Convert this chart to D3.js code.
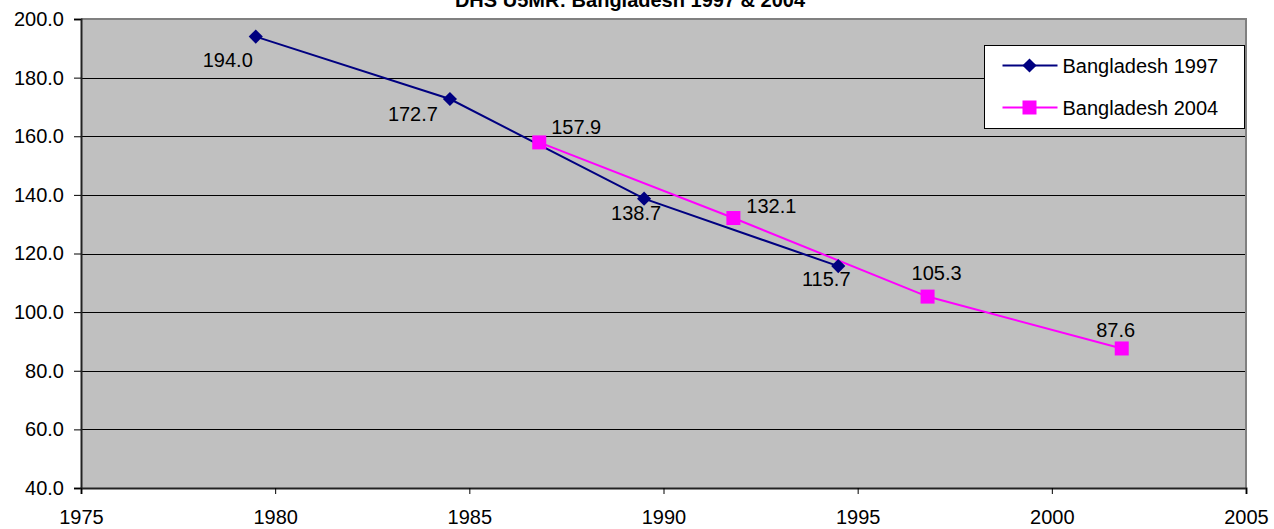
<!DOCTYPE html>
<html>
<head>
	<title>DHS U5MR: Bangladesh 1997 & 2004</title>
	<script src="https://cdn.jsdelivr.net/npm/d3@7"></script>
	<style type="text/css">
	body { margin: 0; background: #fff; }
	svg text { font-family: "Liberation Sans", Arial, sans-serif; fill: #000; }
	</style>
</head>
<body>
	<svg></svg>
<script>
// survey data
var years1997 = [1979.5, 1984.5, 1989.5, 1994.5];
var u5mr1997 = [194.0, 172.7, 138.7, 115.7];
var years2004 = [1986.8, 1991.8, 1996.8, 2001.8];
var u5mr2004 = [157.9, 132.1, 105.3, 87.6];
var seriesNames = ["Bangladesh 1997", "Bangladesh 2004"];
var xTicks = [1975, 1980, 1985, 1990, 1995, 2000, 2005];
var yTicks = [40, 60, 80, 100, 120, 140, 160, 180, 200];

// hand placed label nudges (dx, dy from the point), like the original
var labelNudge1997 = [[-28, 23], [-37, 15], [-8, 14], [-12, 13]];
var labelNudge2004 = [[37, -16], [38, -12], [9, -24], [-6, -19]];

var width = 1274, height = 529;
var margin = {top: 19, right: 28, bottom: 41, left: 81};
var w = width - margin.left - margin.right,
	h = height - margin.top - margin.bottom;

var svg = d3.select("svg").attr("width", width).attr("height", height);

var x = d3.scaleLinear().domain([1975, 2005]).range([0, w]);
var y = d3.scaleLinear().domain([40, 200]).range([h, 0]);

var chart = svg.append("g").attr("transform", "translate(" + margin.left + "," + margin.top + ")");

// plot area
chart.append("rect").attr("width", w).attr("height", h).attr("fill", "#c0c0c0");

// grid lines
chart.selectAll("line.grid")
	.data(yTicks.filter(function(d) { return d > 40 && d < 200; }))
	.enter().append("line")
	.attr("class", "grid")
	.attr("x1", 0).attr("x2", w)
	.attr("y1", function(d) { return Math.round(y(d)) + 0.5; })
	.attr("y2", function(d) { return Math.round(y(d)) + 0.5; })
	.attr("stroke", "#000").attr("stroke-width", 1);

// gray top / right border
chart.append("path")
	.attr("d", "M0,0H" + w + "V" + h)
	.attr("fill", "none").attr("stroke", "#808080").attr("stroke-width", 2);

// axes
var yAxis = chart.append("g")
	.call(d3.axisLeft(y).tickValues(yTicks).tickSize(7).tickPadding(10).tickFormat(d3.format(".1f")));
var xAxis = chart.append("g")
	.attr("transform", "translate(0," + h + ")")
	.call(d3.axisBottom(x).tickValues(xTicks).tickSize(6).tickPadding(16).tickFormat(d3.format("d")));

[yAxis, xAxis].forEach(function(a) {
	a.select(".domain").attr("stroke", "#222").attr("stroke-width", 2);
	a.selectAll(".tick line").attr("stroke", "#000");
	a.selectAll(".tick text").style("font-size", "20px").attr("fill", "#000");
});

// series
var s1997 = years1997.map(function(d, i) { return {yr: d, v: u5mr1997[i], n: labelNudge1997[i]}; });
var s2004 = years2004.map(function(d, i) { return {yr: d, v: u5mr2004[i], n: labelNudge2004[i]}; });

var line = d3.line().x(function(d) { return x(d.yr); }).y(function(d) { return y(d.v); });

chart.append("path").datum(s1997).attr("d", line)
	.attr("fill", "none").attr("stroke", "#000080").attr("stroke-width", 2);
chart.append("path").datum(s2004).attr("d", line)
	.attr("fill", "none").attr("stroke", "#ff00ff").attr("stroke-width", 2);

var diamond = d3.symbol().type(d3.symbolSquare).size(100);

chart.selectAll("path.m1997").data(s1997).enter().append("path")
	.attr("class", "m1997")
	.attr("d", diamond)
	.attr("transform", function(d) { return "translate(" + x(d.yr) + "," + y(d.v) + ") rotate(45)"; })
	.attr("fill", "#000080");

chart.selectAll("rect.m2004").data(s2004).enter().append("rect")
	.attr("class", "m2004")
	.attr("x", function(d) { return x(d.yr) - 7; })
	.attr("y", function(d) { return y(d.v) - 7; })
	.attr("width", 14).attr("height", 14)
	.attr("fill", "#ff00ff");

// data labels
chart.selectAll("text.lbl")
	.data(s1997.concat(s2004))
	.enter().append("text")
	.attr("class", "lbl")
	.attr("x", function(d) { return x(d.yr) + d.n[0]; })
	.attr("y", function(d) { return y(d.v) + d.n[1]; })
	.attr("dy", "0.36em")
	.attr("text-anchor", "middle")
	.style("font-size", "20px")
	.text(function(d) { return d.v.toFixed(1); });

// title (partly cut off at the top, as in the original)
svg.append("text")
	.attr("x", 630).attr("y", 7)
	.attr("text-anchor", "middle")
	.style("font-size", "20px").style("font-weight", "bold")
	.text("DHS U5MR: Bangladesh 1997 & 2004");

// legend
var legend = svg.append("g").attr("transform", "translate(984.5,45.5)");
legend.append("rect").attr("width", 260).attr("height", 83)
	.attr("fill", "#fff").attr("stroke", "#000").attr("stroke-width", 1);

var colors = ["#000080", "#ff00ff"];
var items = legend.selectAll("g.item").data(seriesNames).enter().append("g")
	.attr("class", "item")
	.attr("transform", function(d, i) { return "translate(0," + (20 + i * 42) + ")"; });

items.append("line")
	.attr("x1", 18).attr("x2", 73)
	.attr("stroke", function(d, i) { return colors[i]; }).attr("stroke-width", 2);
items.append("path")
	.attr("d", function(d, i) { return i == 0 ? diamond() : d3.symbol().type(d3.symbolSquare).size(196)(); })
	.attr("transform", function(d, i) { return "translate(45,0)" + (i == 0 ? " rotate(45)" : ""); })
	.attr("fill", function(d, i) { return colors[i]; });
items.append("text")
	.attr("x", 78).attr("dy", "0.36em")
	.style("font-size", "20px")
	.text(function(d) { return d; });
</script>
</body>
</html>
